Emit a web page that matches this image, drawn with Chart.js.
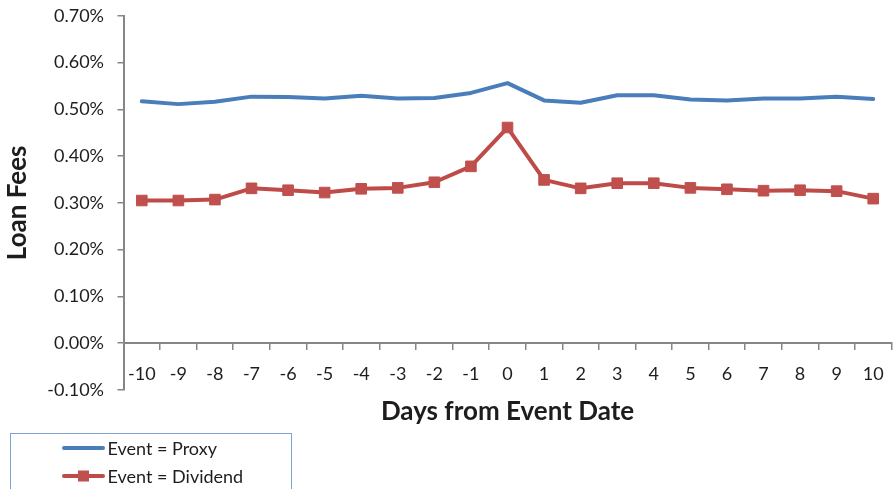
<!DOCTYPE html>
<html>
<head>
<meta charset="utf-8">
<script src="https://cdn.jsdelivr.net/npm/chart.js@4/dist/chart.umd.min.js"></script>
<style>
  html, body { margin: 0; padding: 0; background: #ffffff; overflow: hidden; }
  canvas { display: block; }
</style>
</head>
<body>
<canvas id="feesChart" width="900" height="489"></canvas>
<script>
// Days relative to the event date
const days = ['-10', '-9', '-8', '-7', '-6', '-5', '-4', '-3', '-2', '-1', '0',
              '1', '2', '3', '4', '5', '6', '7', '8', '9', '10'];

// Average loan fees, in percent
const proxyFees = [0.517, 0.511, 0.516, 0.527, 0.526, 0.523, 0.529, 0.523, 0.524, 0.535, 0.556,
                   0.519, 0.514, 0.530, 0.530, 0.521, 0.519, 0.523, 0.523, 0.527, 0.522];
const dividendFees = [0.305, 0.305, 0.307, 0.331, 0.327, 0.322, 0.330, 0.332, 0.344, 0.378, 0.461,
                      0.349, 0.331, 0.342, 0.342, 0.332, 0.329, 0.326, 0.327, 0.325, 0.309];

const seriesNames = ['Event = Proxy', 'Event = Dividend'];

// Value axis range and step, in percent
const feeMin = -0.1;
const feeMax = 0.7;
const feeStep = 0.1;

const textColor = '#1f1c1d';
const axisColor = '#868686';
const fontFamily = 'Lato, "Liberation Sans", sans-serif';

// Boxed legend in the lower-left corner
const boxedLegend = {
  id: 'boxedLegend',
  afterDraw(chart) {
    const ctx = chart.ctx;
    ctx.save();
    ctx.strokeStyle = '#7ea3d2';
    ctx.lineWidth = 1;
    ctx.strokeRect(10.5, 433.5, 281, 80);
    ctx.font = '18px ' + fontFamily;
    ctx.textBaseline = 'middle';
    ctx.textAlign = 'left';
    const rows = [448, 476];
    chart.data.datasets.forEach((ds, i) => {
      const y = rows[i];
      ctx.strokeStyle = ds.borderColor;
      ctx.lineWidth = ds.borderWidth;
      ctx.lineCap = 'round';
      ctx.beginPath();
      ctx.moveTo(64, y);
      ctx.lineTo(103, y);
      ctx.stroke();
      if (ds.pointRadius > 0) {
        const s = 11;
        ctx.fillStyle = ds.pointBackgroundColor;
        ctx.fillRect(83.5 - s / 2, y - s / 2, s, s);
      }
      ctx.fillStyle = textColor;
      ctx.fillText(ds.label, 107.5, y + 1);
    });
    ctx.restore();
  }
};

new Chart(document.getElementById('feesChart'), {
  type: 'line',
  data: {
    labels: days,
    datasets: [
      {
        label: seriesNames[0],
        data: proxyFees,
        borderColor: '#4a7ebb',
        backgroundColor: '#4a7ebb',
        borderWidth: 4,
        pointRadius: 0,
        tension: 0,
        borderCapStyle: 'round',
        borderJoinStyle: 'round'
      },
      {
        label: seriesNames[1],
        data: dividendFees,
        borderColor: '#be4b48',
        backgroundColor: '#be4b48',
        pointBackgroundColor: '#c0504d',
        pointBorderColor: '#c0504d',
        borderWidth: 4,
        pointStyle: 'rect',
        pointRadius: 7.5,
        pointBorderWidth: 1,
        tension: 0,
        borderJoinStyle: 'round'
      }
    ]
  },
  options: {
    responsive: false,
    animation: false,
    devicePixelRatio: 1,
    layout: { padding: { left: 0, top: 15.7, right: 2.65, bottom: 99 } },
    plugins: {
      legend: { display: false },
      tooltip: { enabled: false }
    },
    scales: {
      x: {
        type: 'category',
        position: { y: 0 },
        offset: true,
        afterFit(scale) { scale.height = 84; },
        grid: {
          offset: true,
          drawOnChartArea: false,
          drawTicks: true,
          tickLength: 6,
          color: axisColor,
          lineWidth: 1.5
        },
        border: { display: true, color: axisColor, width: 2 },
        ticks: {
          color: textColor,
          font: { family: fontFamily, size: 18 },
          padding: 14.5,
          maxRotation: 0,
          autoSkip: false
        },
        title: {
          display: true,
          text: 'Days from Event Date',
          color: textColor,
          font: { family: fontFamily, size: 26, weight: 'bold' },
          padding: { top: 0, bottom: 0 }
        }
      },
      y: {
        position: 'left',
        min: feeMin,
        max: feeMax,
        afterFit(scale) {
          scale.width = 123.5;
          scale.paddingTop = 0;
          scale.paddingBottom = 0;
        },
        grid: {
          drawOnChartArea: false,
          drawTicks: true,
          tickLength: 6,
          color: axisColor,
          lineWidth: 1.5
        },
        border: { display: true, color: axisColor, width: 2 },
        ticks: {
          stepSize: feeStep,
          color: textColor,
          font: { family: fontFamily, size: 18 },
          padding: 13.5,
          callback: (v) => (Math.abs(v) < 1e-9 ? 0 : v).toFixed(2) + '%'
        },
        title: {
          display: true,
          text: 'Loan Fees',
          color: textColor,
          font: { family: fontFamily, size: 26, weight: 'bold' },
          padding: { top: 2, bottom: 0 }
        }
      }
    }
  },
  plugins: [boxedLegend]
});
</script>
</body>
</html>
